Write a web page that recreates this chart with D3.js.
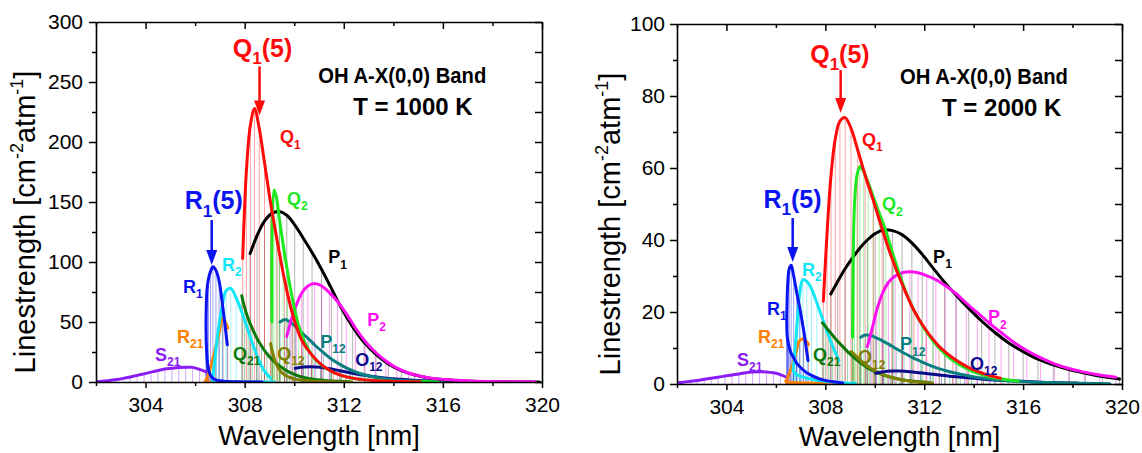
<!DOCTYPE html>
<html>
<head>
<meta charset="utf-8">
<script src="https://cdn.jsdelivr.net/npm/d3@7"></script>
<style>
  body { margin: 0; background: #fff; }
  svg text { font-family: "Liberation Sans", Arial, sans-serif; }
</style>
</head>
<body>
<svg id="chart" width="1142" height="453"></svg>
<script>
// ---- axis ticks ----
const xTicks = [304, 308, 312, 316, 320];
const yTicks1000 = [0, 50, 100, 150, 200, 250, 300];
const yTicks2000 = [0, 20, 40, 60, 80, 100];
const temperatures = ["1000 K", "2000 K"];

// ---- line positions (nm) and line strengths per branch, T = 1000 K and 2000 K ----
const s21Nm     = [306.45, 306.18, 305.90, 305.62, 305.34, 305.06, 304.78, 304.50, 304.22, 303.94, 303.66, 303.38, 303.10, 302.82, 302.54, 302.26, 302.00];
const s21At1000 = [8.5, 10.5, 12.2, 12.3, 12, 11.4, 10.8, 9.6, 8.2, 6.8, 5.5, 4.2, 3, 2, 1.2, 0.6, 0.3];
const s21At2000 = [1.8, 2.6, 3.1, 3.35, 3.4, 3.3, 3.1, 2.8, 2.5, 2.2, 1.9, 1.6, 1.3, 1.0, 0.75, 0.5, 0.35];

const r21Nm     = [307.32, 307.12, 306.96, 306.82, 306.70, 306.60, 306.52, 306.46, 306.42, 306.40, 306.40, 306.43, 306.49, 306.58, 306.70, 306.86, 307.06, 307.30, 307.58, 307.90, 308.27, 308.68];
const r21At1000 = [45, 53, 40, 28, 18, 10.5, 5.5, 2.5, 1, 0.5, 0.3, 0.2, 0.15, 0.1, 0.08, 0.06, 0.05, 0.04, 0.03, 0.02, 0.01, 0.01];
const r21At2000 = [11, 12.5, 12, 9, 6, 4, 2.5, 1.5, 1.0, 0.8, 0.7, 0.6, 0.5, 0.45, 0.4, 0.35, 0.3, 0.25, 0.2, 0.15, 0.1, 0.08];

const r1Nm      = [307.30, 307.12, 306.97, 306.84, 306.72, 306.62, 306.54, 306.48, 306.45, 306.44, 306.46, 306.51, 306.59, 306.70, 306.84, 307.01, 307.21, 307.44, 307.70, 307.99, 308.32, 308.70];
const r1At1000  = [31, 62, 84, 93, 96, 92, 86, 77, 63, 45, 28, 14, 7, 3.5, 1.8, 1.0, 0.5, 0.3, 0.15, 0.1, 0.05, 0.03];
const r1At2000  = [6.5, 15, 21, 25.5, 30, 33, 32, 28, 22, 17, 13, 11, 9, 7.5, 5.8, 4.5, 3.3, 2.4, 1.6, 1.0, 0.6, 0.3];

const r2Nm      = [309.05, 308.80, 308.55, 308.22, 307.92, 307.66, 307.44, 307.25, 307.09, 306.96, 306.86, 306.78, 306.73, 306.70, 306.70, 306.73, 306.79, 306.89, 307.03, 307.21, 307.44, 307.71, 308.02, 308.38, 308.78, 309.22];
const r2At1000  = [3, 9, 19, 38, 56, 70, 78, 76, 63, 47, 31, 16, 7, 3, 1.2, 0.6, 0.4, 0.3, 0.2, 0.15, 0.1, 0.1, 0.05, 0.05, 0.03, 0.02];
const r2At2000  = [null, null, 6.5, 11.8, 17.5, 22.5, 26.5, 28.5, 29, 25, 17, 10, 6, 4.5, 3.8, 3.3, 2.9, 2.5, 2.1, 1.7, 1.3, 1.0, 0.7, 0.5, 0.3, 0.2];

const q21Nm     = [307.88, 308.00, 308.14, 308.30, 308.48, 308.68, 308.90, 309.14, 309.40, 309.68, 309.98, 310.30, 310.64, 311.00, 311.38, 311.78, 312.20];
const q21At1000 = [72, 62, 53, 45, 37, 30, 23.5, 18, 13.5, 9.5, 6.5, 4.2, 2.7, 1.6, 1.0, 0.6, 0.3];
const q21At2000 = [17, 16, 14.8, 13.5, 12, 10.6, 9, 7.5, 6, 4.6, 3.5, 2.6, 1.9, 1.3, 0.9, 0.6, 0.4];

const q12Nm     = [309.05, 309.12, 309.21, 309.32, 309.45, 309.61, 309.79, 310.00, 310.24, 310.51, 310.81, 311.14, 311.50, 311.90, 312.33];
const q12At1000 = [32, 25, 18.5, 13, 9, 6, 4, 2.6, 1.7, 1.1, 0.7, 0.4, 0.2, 0.1, 0.05];
const q12At2000 = [9, 8.6, 8, 7.2, 6.3, 5.4, 4.5, 3.7, 2.9, 2.2, 1.6, 1.1, 0.7, 0.45, 0.3];

const o12Nm     = [310.04, 310.36, 310.70, 311.06, 311.44, 311.84, 312.26, 312.70, 313.16, 313.64, 314.14, 314.66, 315.20, 315.76, 316.34, 316.94, 317.56, 318.20];
const o12At1000 = [11.5, 12.5, 12.8, 12.3, 11, 9.4, 7.7, 6, 4.6, 3.4, 2.4, 1.7, 1.1, 0.7, 0.45, 0.3, 0.2, 0.1];
const o12At2000 = [3.0, 3.4, 3.6, 3.6, 3.4, 3.1, 2.8, 2.4, 2.1, 1.8, 1.5, 1.2, 1.0, 0.8, 0.6, 0.45, 0.35, 0.25];

const p12Nm     = [309.43, 309.62, 309.83, 310.06, 310.31, 310.58, 310.87, 311.18, 311.51, 311.86, 312.23, 312.62, 313.03, 313.46, 313.91, 314.38, 314.87, 315.38, 315.91, 316.46, 317.03, 317.62, 318.23, 318.86, 319.51];
const p12At1000 = [50, 52, 50, 46, 41, 36, 30, 24.5, 19, 14.5, 10.5, 7.3, 5, 3.3, 2.1, 1.3, 0.8, 0.5, 0.3, 0.2, 0.12, 0.08, 0.05, 0.03, 0.02];
const p12At2000 = [13, 13.6, 13.5, 12.8, 12, 11, 9.8, 8.6, 7.4, 6.3, 5.2, 4.2, 3.4, 2.7, 2.1, 1.6, 1.2, 0.9, 0.7, 0.5, 0.4, 0.3, 0.2, 0.15, 0.1];

const p1Nm      = [308.22, 308.50, 308.80, 309.10, 309.40, 309.70, 310.02, 310.36, 310.72, 311.10, 311.50, 311.92, 312.36, 312.82, 313.30, 313.80, 314.32, 314.86, 315.42, 316.00, 316.60, 317.22, 317.86, 318.52, 319.20, 319.90];
const p1At1000  = [107, 122, 134, 140.5, 142, 139, 131, 120, 108, 94, 78, 61, 46, 33, 23, 15, 9.5, 5.8, 3.4, 2, 1.1, 0.6, 0.35, 0.2, 0.1, 0.05];
const p1At2000  = [25, 28.5, 32, 35, 37.8, 40, 41.8, 42.8, 42.6, 41.5, 39.2, 36, 32.2, 28.3, 24.6, 21, 17.5, 14.3, 11.4, 9, 6.9, 5.3, 4, 3, 2.1, 1.4];

const p2Nm      = [309.70, 309.88, 310.08, 310.30, 310.55, 310.82, 311.11, 311.42, 311.75, 312.10, 312.47, 312.86, 313.27, 313.70, 314.15, 314.62, 315.11, 315.62, 316.15, 316.70, 317.27, 317.86, 318.47, 319.10, 319.75];
const p2At1000  = [38, 52, 64, 74, 80, 82, 80, 74.5, 67, 57, 45, 34, 25, 17.5, 11.5, 7.5, 4.8, 3.0, 2.0, 1.2, 0.7, 0.4, 0.25, 0.15, 0.1];
const p2At2000  = [10.4, 15, 20.5, 25, 28.2, 30, 30.9, 31.2, 30.9, 30.1, 29, 27.3, 25.2, 22.5, 19.8, 17, 14.3, 11.6, 9.3, 7.3, 5.6, 4.3, 3.3, 2.5, 1.9];

const q2Nm      = [309.10, 309.18, 309.28, 309.40, 309.55, 309.73, 309.94, 310.18, 310.45, 310.76, 311.10, 311.48, 311.90, 312.35, 312.84, 313.36, 313.92, 314.51, 315.14, 315.80];
const q2At1000  = [50, 160, 154, 136, 115, 92, 68, 47, 32, 21, 14, 9, 5.5, 3.2, 1.8, 1.0, 0.5, 0.3, 0.15, 0.1];
const q2At2000  = [13, 50, 58, 60.4, 59, 56, 52, 47.5, 42.5, 35.5, 28.5, 22, 16.5, 12, 8.3, 5.6, 3.6, 2.3, 1.4, 0.8];

const q1Nm      = [307.92, 308.07, 308.23, 308.40, 308.59, 308.80, 309.04, 309.31, 309.61, 309.94, 310.30, 310.69, 311.12, 311.58, 312.07, 312.60, 313.16, 313.76, 314.40, 315.08];
const q1At1000  = [103, 176, 214, 228, 211, 183, 150, 118, 85, 56, 35, 23, 14, 8, 4.5, 2.4, 1.3, 0.7, 0.4, 0.2];
const q1At2000  = [23, 42, 58, 68, 73, 74, 71, 65, 58, 51, 43, 35, 27.5, 20.5, 15, 10.5, 7.2, 4.7, 2.9, 1.6];

// branch table, drawn bottom-to-top in this order
const branches = [
  { name: "S21", nm: s21Nm, values: [s21At1000, s21At2000] },
  { name: "R21", nm: r21Nm, values: [r21At1000, r21At2000] },
  { name: "R2",  nm: r2Nm,  values: [r2At1000,  r2At2000]  },
  { name: "R1",  nm: r1Nm,  values: [r1At1000,  r1At2000]  },
  { name: "Q21", nm: q21Nm, values: [q21At1000, q21At2000] },
  { name: "Q12", nm: q12Nm, values: [q12At1000, q12At2000] },
  { name: "O12", nm: o12Nm, values: [o12At1000, o12At2000] },
  { name: "P12", nm: p12Nm, values: [p12At1000, p12At2000] },
  { name: "P1",  nm: p1Nm,  values: [p1At1000,  p1At2000]  },
  { name: "P2",  nm: p2Nm,  values: [p2At1000,  p2At2000]  },
  { name: "Q2",  nm: q2Nm,  values: [q2At1000,  q2At2000]  },
  { name: "Q1",  nm: q1Nm,  values: [q1At1000,  q1At2000]  }
];

const branchColor = {
  S21: "#8a1cf5", R21: "#ff8000", R2: "#10e6f5", R1: "#0a14f0",
  Q21: "#0b7a0b", Q12: "#808000", O12: "#0a0a8c", P12: "#0a7f80",
  P1: "#000000", P2: "#ff10f0", Q2: "#1ee81e", Q1: "#ff0a0a"
};

// ---- panel layout ----
const panels = [
  { x0: 96, x1: 542, y0: 22, y1: 382, yMax: 300, yTicks: yTicks1000, yMinor: 25, yPad: 6,
    yTitleX: 35, xTitleY: 445,
    big: [ { main: "Q", sub: "1", tail: "(5)", key: "Q1", nm: 308.72, v: 271, arrow: [308.60, 263, 222] },
           { main: "R", sub: "1", tail: "(5)", key: "R1", nm: 306.75, v: 143.8, arrow: [306.67, 135, 97.5] } ],
    small: [ ["Q1", 309.43, 199], ["Q2", 309.71, 147.5], ["P1", 311.37, 99], ["P2", 312.95, 46.7],
             ["R2", 307.09, 92.5], ["R1", 305.51, 74.2], ["R21", 305.27, 32.5], ["S21", 304.38, 17.5],
             ["Q21", 307.53, 18.3], ["Q12", 309.31, 18.3], ["P12", 311.05, 28.3], ["O12", 312.46, 13.3] ],
    title: [310.97, 249], tline: [312.38, 222.5] },
  { x0: 677, x1: 1122, y0: 24, y1: 384, yMax: 100, yTicks: yTicks2000, yMinor: 10, yPad: 5,
    yTitleX: 620, xTitleY: 446,
    big: [ { main: "Q", sub: "1", tail: "(5)", key: "Q1", nm: 308.59, v: 89.3, arrow: [308.62, 87.2, 75.3] },
           { main: "R", sub: "1", tail: "(5)", key: "R1", nm: 306.67, v: 49, arrow: [306.68, 46.1, 33.9] } ],
    small: [ ["Q1", 309.48, 66.1], ["Q2", 310.29, 48.3], ["P1", 312.36, 33.6], ["P2", 314.58, 16.9],
             ["R2", 307.06, 30], ["R1", 305.64, 19.2], ["R21", 305.28, 11.4], ["S21", 304.43, 5],
             ["Q21", 307.5, 6.4], ["Q12", 309.32, 5.8], ["P12", 311.02, 9.4], ["O12", 313.85, 3.9] ],
    title: [311.02, 83.3], tline: [312.72, 74.4] }
];

const svg = d3.select("#chart");

function addRich(sel, x, y, main, sub, tail, size, color, anchor) {
  const t = sel.append("text")
    .attr("x", x).attr("y", y)
    .attr("fill", color)
    .attr("font-weight", "bold")
    .attr("font-size", size)
    .attr("text-anchor", anchor || "start");
  t.append("tspan").text(main);
  const subSize = Math.round(size * 0.66);
  t.append("tspan").attr("font-size", subSize).attr("dy", size * 0.3).text(sub);
  if (tail) t.append("tspan").attr("font-size", size).attr("dy", -size * 0.3).text(tail);
  return t;
}

panels.forEach((p, pi) => {
  const x = d3.scaleLinear().domain([302, 320]).range([p.x0, p.x1]);
  const y = d3.scaleLinear().domain([0, p.yMax]).range([p.y1, p.y0]);
  const g = svg.append("g");

  const clipId = "clip" + pi;
  svg.append("clipPath").attr("id", clipId)
    .append("rect").attr("x", p.x0).attr("y", p.y0 - 2)
    .attr("width", p.x1 - p.x0).attr("height", p.y1 - p.y0 + 2);

  const plot = g.append("g").attr("clip-path", `url(#${clipId})`);

  // individual lines as thin sticks
  const sticks = plot.append("g");
  branches.forEach(b => {
    const pts = b.nm.map((nm, i) => ({ nm, v: b.values[pi][i] })).filter(d => d.v != null);
    sticks.selectAll(null).data(pts).enter().append("line")
      .attr("x1", d => x(d.nm)).attr("x2", d => x(d.nm))
      .attr("y1", y(0)).attr("y2", d => y(d.v))
      .attr("stroke", branchColor[b.name])
      .attr("stroke-opacity", b.name === "P1" ? 0.3 : 0.38)
      .attr("stroke-width", 1);
  });

  // branch envelopes
  const line = d3.line()
    .defined(d => d.v != null)
    .x(d => x(d.nm)).y(d => y(d.v))
    .curve(d3.curveCatmullRom.alpha(0.5));
  branches.forEach(b => {
    const pts = b.nm.map((nm, i) => ({ nm, v: b.values[pi][i] }));
    plot.append("path").datum(pts)
      .attr("d", line)
      .attr("fill", "none")
      .attr("stroke", branchColor[b.name])
      .attr("stroke-width", 3)
      .attr("stroke-linejoin", "round")
      .attr("stroke-linecap", "round");
  });

  // axes
  const fmt = d3.format("d");
  const styleAxis = a => {
    a.attr("font-family", null).attr("font-size", null);
    a.selectAll(".domain").attr("stroke", "#000").attr("stroke-width", 1.6);
    a.selectAll(".tick line").attr("stroke", "#000").attr("stroke-width", 1.5);
    a.selectAll("text").attr("font-size", 21).attr("fill", "#000");
  };
  const xMinor = d3.range(302, 320.1, 2).filter(v => !xTicks.includes(v));

  const bottom = g.append("g").attr("transform", `translate(0,${p.y1})`)
    .call(d3.axisBottom(x).tickValues(xTicks).tickSize(6).tickSizeOuter(0).tickPadding(9).tickFormat(fmt));
  styleAxis(bottom);
  g.append("g").attr("transform", `translate(0,${p.y1})`)
    .call(d3.axisBottom(x).tickValues(xMinor).tickSize(4).tickSizeOuter(0).tickFormat(""))
    .call(a => { styleAxis(a); a.select(".domain").remove(); });

  const top = g.append("g").attr("transform", `translate(0,${p.y0})`)
    .call(d3.axisTop(x).tickValues(xTicks).tickSize(-7).tickSizeOuter(0).tickFormat(""));
  styleAxis(top);
  g.append("g").attr("transform", `translate(0,${p.y0})`)
    .call(d3.axisTop(x).tickValues(xMinor).tickSize(-4).tickSizeOuter(0).tickFormat(""))
    .call(a => { styleAxis(a); a.select(".domain").remove(); });

  const yMinor = d3.range(p.yMinor, p.yMax, p.yMinor * 2);
  const left = g.append("g").attr("transform", `translate(${p.x0},0)`)
    .call(d3.axisLeft(y).tickValues(p.yTicks).tickSize(7).tickSizeOuter(0).tickPadding(p.yPad).tickFormat(fmt));
  styleAxis(left);
  g.append("g").attr("transform", `translate(${p.x0},0)`)
    .call(d3.axisLeft(y).tickValues(yMinor).tickSize(4).tickSizeOuter(0).tickFormat(""))
    .call(a => { styleAxis(a); a.select(".domain").remove(); });

  const right = g.append("g").attr("transform", `translate(${p.x1},0)`)
    .call(d3.axisRight(y).tickValues(d3.range(0, p.yMax + 0.1, p.yMinor)).tickSize(-7).tickSizeOuter(0).tickFormat(""));
  styleAxis(right);

  // axis titles
  g.append("text")
    .attr("x", (p.x0 + p.x1) / 2).attr("y", p.xTitleY)
    .attr("text-anchor", "middle").attr("font-size", 27).attr("fill", "#000")
    .text("Wavelength [nm]");

  const yt = g.append("text")
    .attr("transform", `translate(${p.yTitleX},${(p.y0 + p.y1) / 2 + 20}) rotate(-90)`)
    .attr("text-anchor", "middle").attr("font-size", 29).attr("fill", "#000");
  yt.append("tspan").text("Linestrength [cm");
  yt.append("tspan").attr("font-size", 18).attr("dy", -12).text("-2");
  yt.append("tspan").attr("font-size", 29).attr("dy", 12).text("atm");
  yt.append("tspan").attr("font-size", 18).attr("dy", -12).text("-1");
  yt.append("tspan").attr("font-size", 29).attr("dy", 12).text("]");

  // band title
  g.append("text")
    .attr("x", x(p.title[0])).attr("y", y(p.title[1]))
    .attr("font-size", 22).attr("font-weight", "bold").attr("fill", "#000")
    .attr("textLength", 168).attr("lengthAdjust", "spacingAndGlyphs")
    .text("OH A-X(0,0) Band");
  g.append("text")
    .attr("x", x(p.tline[0])).attr("y", y(p.tline[1]))
    .attr("font-size", 24).attr("font-weight", "bold").attr("fill", "#000")
    .text("T = " + temperatures[pi]);

  // branch labels
  p.small.forEach(([key, nm, v]) => {
    addRich(g, x(nm), y(v), key[0], key.slice(1), "", 18, branchColor[key]);
  });

  // highlighted lines with arrows
  p.big.forEach(bl => {
    const c = branchColor[bl.key];
    addRich(g, x(bl.nm), y(bl.v), bl.main, bl.sub, bl.tail, 25, c, "middle");
    const ax = x(bl.arrow[0]), yTop = y(bl.arrow[1]), yTip = y(bl.arrow[2]);
    g.append("line").attr("x1", ax).attr("x2", ax).attr("y1", yTop).attr("y2", yTip - 12)
      .attr("stroke", c).attr("stroke-width", 2.5);
    g.append("path")
      .attr("d", `M${ax - 5.5},${yTip - 15} L${ax + 5.5},${yTip - 15} L${ax},${yTip} Z`)
      .attr("fill", c);
  });
});
</script>
</body>
</html>
